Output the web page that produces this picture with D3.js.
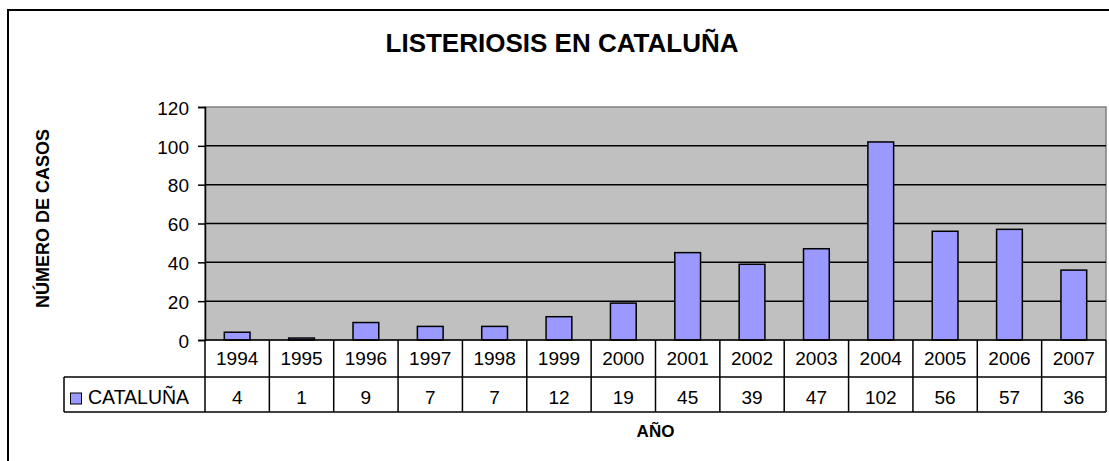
<!DOCTYPE html>
<html><head><meta charset="utf-8">
<script src="https://cdn.jsdelivr.net/npm/d3@7"></script>
<style>
html,body{margin:0;padding:0;background:#fff;}
svg{display:block;font-family:"Liberation Sans",Arial,sans-serif;}
</style></head>
<body>
<svg id="chart" width="1109" height="461"></svg>
<script>
const title = "LISTERIOSIS EN CATALUÑA";
const yLabel = "NÚMERO DE CASOS";
const xLabel = "AÑO";
const seriesName = "CATALUÑA";
const years = ["1994","1995","1996","1997","1998","1999","2000","2001","2002","2003","2004","2005","2006","2007"];
const cases = [4,1,9,7,7,12,19,45,39,47,102,56,57,36];
const yTicks = [0,20,40,60,80,100,120];

const svg = d3.select("#chart");
const plot = {left:205, right:1106, top:107, bottom:340};
const rowH = [37, 35];
const legendLeft = 64;

// outer border
svg.append("rect").attr("x",8).attr("y",10).attr("width",1120).attr("height",470)
  .attr("fill","#fff").attr("stroke","#000").attr("stroke-width",2);

const x = d3.scaleBand().domain(years).range([plot.left, plot.right]).paddingInner(0.6).paddingOuter(0.3);
const xCell = d3.scaleBand().domain(years).range([plot.left, plot.right]);
const y = d3.scaleLinear().domain([0,120]).range([plot.bottom, plot.top]);

// plot area
svg.append("rect").attr("x",plot.left).attr("y",plot.top)
  .attr("width",plot.right-plot.left).attr("height",plot.bottom-plot.top)
  .attr("fill","#C0C0C0").attr("stroke","#808080").attr("stroke-width",1.5);

// gridlines
svg.append("g").selectAll("line").data(yTicks.filter(d=>d>0 && d<120)).join("line")
  .attr("x1",plot.left).attr("x2",plot.right)
  .attr("y1",d=>y(d)).attr("y2",d=>y(d))
  .attr("stroke","#000").attr("stroke-width",1.5);

// bars
svg.append("g").selectAll("rect").data(cases).join("rect")
  .attr("x",(d,i)=>x(years[i])).attr("width",x.bandwidth())
  .attr("y",d=>y(d)).attr("height",d=>y(0)-y(d))
  .attr("fill","#9999FF").attr("stroke","#000").attr("stroke-width",1.5);

// y axis
const yAxis = d3.axisLeft(y).tickValues(yTicks).tickSize(7).tickPadding(9).tickFormat(d3.format("d"));
const gy = svg.append("g").attr("transform",`translate(${plot.left},0)`).call(yAxis);
gy.select(".domain").attr("stroke","#000").attr("stroke-width",1.5);
gy.selectAll(".tick line").attr("stroke","#000").attr("stroke-width",1.5);
gy.selectAll(".tick text").attr("font-size",19).attr("fill","#000")
  .attr("font-family","Liberation Sans, Arial, sans-serif").attr("dy","0.38em");

// data table
const tbl = svg.append("g");
const r1 = plot.bottom, r2 = plot.bottom+rowH[0], r3 = plot.bottom+rowH[0]+rowH[1];
const ln = (x1,y1,x2,y2)=>tbl.append("line").attr("x1",x1).attr("y1",y1).attr("x2",x2).attr("y2",y2)
  .attr("stroke","#000").attr("stroke-width",1.5);
ln(plot.left,r1,plot.right,r1);
ln(legendLeft,r2,plot.right,r2);
ln(legendLeft,r3,plot.right,r3);
ln(legendLeft,r2,legendLeft,r3);
ln(plot.left,r1,plot.left,r3);
tbl.selectAll("line.v").data(years).join("line").attr("class","v")
  .attr("x1",d=>xCell(d)+xCell.bandwidth()).attr("x2",d=>xCell(d)+xCell.bandwidth())
  .attr("y1",r1).attr("y2",r3).attr("stroke","#000").attr("stroke-width",1.5);
tbl.selectAll("text.yr").data(years).join("text").attr("class","yr")
  .attr("x",d=>xCell(d)+xCell.bandwidth()/2).attr("y",r1+25)
  .attr("text-anchor","middle").attr("font-size",19).text(d=>d);
tbl.selectAll("text.val").data(cases).join("text").attr("class","val")
  .attr("x",(d,i)=>xCell(years[i])+xCell.bandwidth()/2).attr("y",r2+27)
  .attr("text-anchor","middle").attr("font-size",19).text(d=>d);
// legend key
tbl.append("rect").attr("x",70.5).attr("y",393).attr("width",11).attr("height",11)
  .attr("fill","#9999FF").attr("stroke","#000").attr("stroke-width",1);
tbl.append("text").attr("x",88).attr("y",r2+27).attr("font-size",19.5).text(seriesName);

// titles
svg.append("text").attr("x",562).attr("y",52).attr("text-anchor","middle")
  .attr("font-size",26).attr("font-weight","bold").text(title);
svg.append("text").attr("transform",`translate(49,${(plot.top+plot.bottom)/2 - 5}) rotate(-90)`)
  .attr("text-anchor","middle").attr("font-size",18).attr("font-weight","bold").text(yLabel);
svg.append("text").attr("x",(plot.left+plot.right)/2).attr("y",437).attr("text-anchor","middle")
  .attr("font-size",17).attr("font-weight","bold").text(xLabel);
</script>
</body></html>
